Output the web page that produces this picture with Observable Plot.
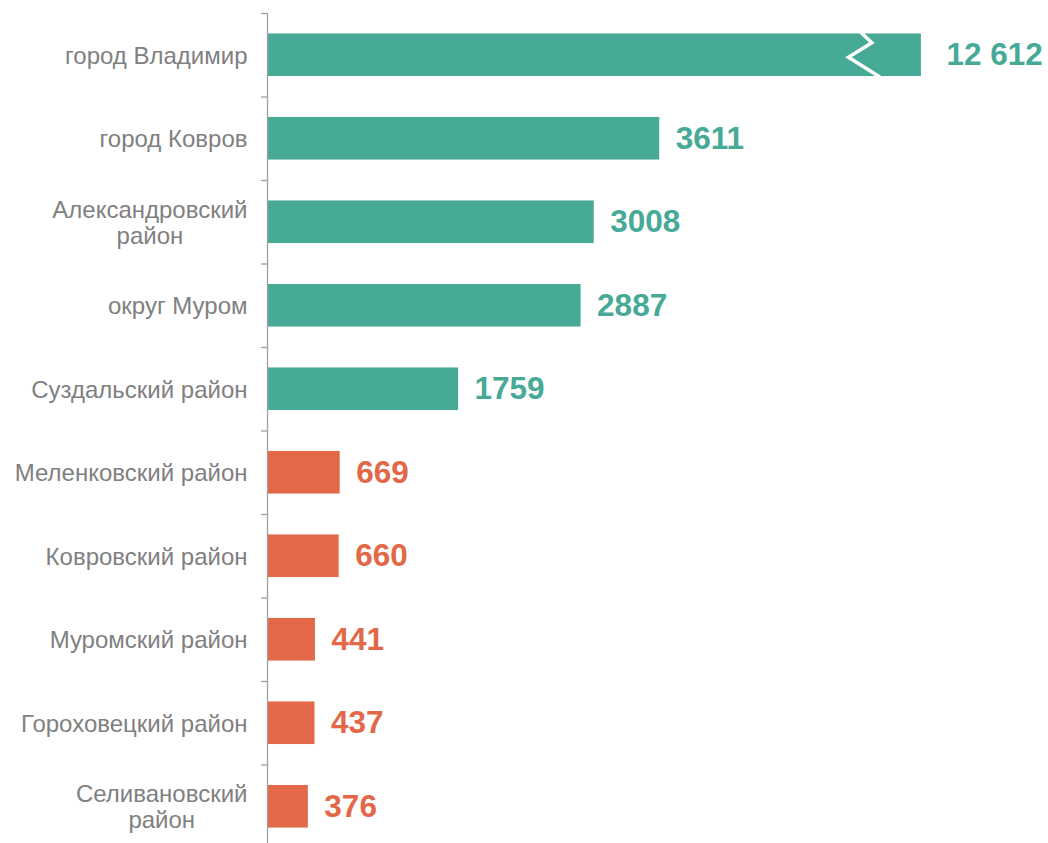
<!DOCTYPE html>
<html><head><meta charset="utf-8">
<script src="https://cdn.jsdelivr.net/npm/d3@7"></script>
<script src="https://cdn.jsdelivr.net/npm/@observablehq/plot@0.6"></script>
<style>html,body{margin:0;padding:0;background:#fff;overflow:hidden}</style>
</head><body><div id="chart"></div>
<script>
const categories = ["город Владимир","город Ковров","Александровский\nрайон","округ Муром","Суздальский район","Меленковский район","Ковровский район","Муромский район","Гороховецкий район","Селивановский\nрайон"];
const values = [12612, 3611, 3008, 2887, 1759, 669, 660, 441, 437, 376];
const groups = ["top","top","top","top","top","bottom","bottom","bottom","bottom","bottom"];
const breakAt = 6020; // axis break: longer bars are cut here

const data = categories.map((c, i) => ({
  name: c, value: values[i], group: groups[i],
  shown: Math.min(values[i], breakAt), broken: values[i] > breakAt
}));
const fmt = v => v >= 10000 ? d3.format(",")(v).replace(/,/g, " ") : String(v);
const TEAL = "#46aa97", ORANGE = "#e26847", GREY = "#808080", AXIS = "#a0a0a0";

function breakMark(index, scales) {
  const x = scales.x, y = scales.y;
  const bw = typeof y.bandwidth === "function" ? y.bandwidth() : y.bandwidth;
  const g = d3.create("svg:g");
  for (const d of data.filter(d => d.broken)) {
    const xe = x(d.shown), y0 = y(d.name), h = bw;
    const pts = [[xe - 60, y0 - 1], [xe - 49, y0 + 0.22 * h], [xe - 72.5, y0 + 0.56 * h], [xe - 41, y0 + h + 1]];
    g.append("path").attr("d", d3.line()(pts)).attr("fill", "none")
      .attr("stroke", "#fff").attr("stroke-width", 3.5).attr("stroke-linejoin", "miter");
  }
  return g.node();
}

const chart = Plot.plot({
  width: 1048, height: 850,
  marginTop: 13, marginBottom: 2, marginLeft: 267, marginRight: 0,
  style: {fontFamily: "'Liberation Sans', Arial, sans-serif", background: "#fff"},
  x: {domain: [0, 7190], axis: null},
  y: {domain: categories, paddingInner: 0.49, paddingOuter: 0.245, round: false, axis: null},
  color: {domain: ["top", "bottom"], range: [TEAL, ORANGE]},
  marks: [
    Plot.barX(data, {y: "name", x: "shown", fill: "group"}),
    breakMark,
    Plot.ruleX([0], {stroke: AXIS, strokeWidth: 1.3}),
    Plot.axisY({tickSize: 6, tickFormat: () => "", label: null, dy: -41.75, stroke: AXIS, strokeWidth: 1.3}),
    Plot.axisY({tickSize: 0, tickPadding: 20, label: null, fontSize: 24, fill: GREY, lineHeight: 1.08}),
    Plot.text(data.filter(d => !d.broken), {y: "name", x: "shown", text: d => fmt(d.value), fill: "group",
      textAnchor: "start", dx: 16, fontSize: 31.5, fontWeight: "bold"}),
    Plot.text(data.filter(d => d.broken), {y: "name", x: "shown", text: d => fmt(d.value), fill: "group",
      textAnchor: "start", dx: 25, fontSize: 31.5, fontWeight: "bold"})
  ]
});
document.getElementById("chart").appendChild(chart);

// center the lines of multi-line tick labels within their right-aligned block
chart.querySelectorAll('g[aria-label="y-axis tick label"] text').forEach(t => {
  const spans = t.querySelectorAll("tspan");
  if (spans.length > 1) {
    let w = 0;
    spans.forEach(s => { w = Math.max(w, s.getComputedTextLength()); });
    t.setAttribute("text-anchor", "middle");
    spans.forEach(s => s.setAttribute("x", -w / 2));
  }
});
</script>
</body></html>
